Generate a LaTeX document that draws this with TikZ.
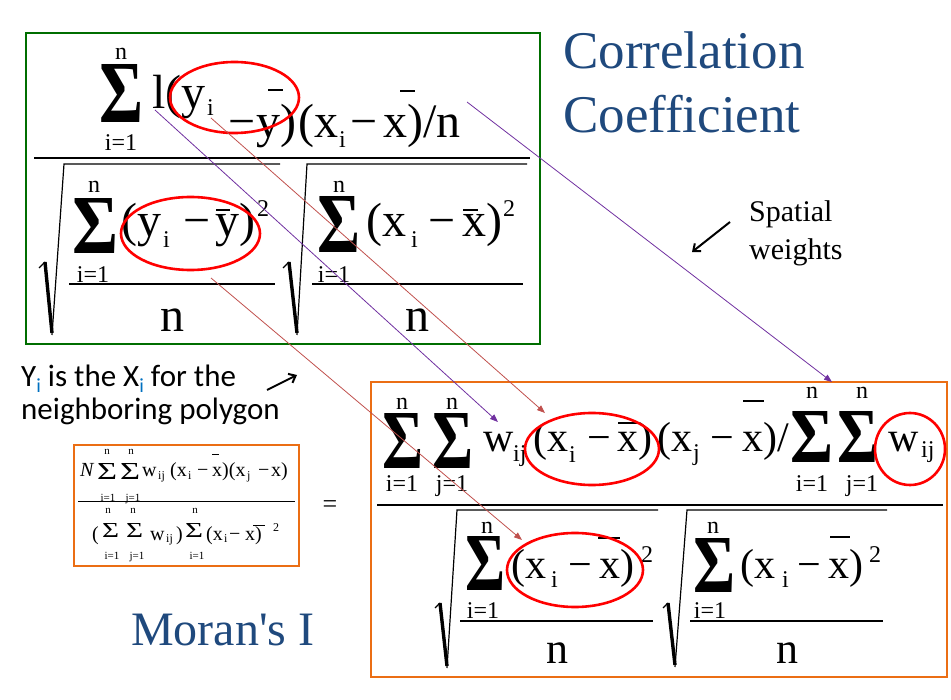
\documentclass[tikz,border=0pt]{standalone}
\usepackage{graphicx}
\usepackage{fontspec}
\setmainfont{Liberation Serif}
\newfontfamily\plainserif[Ligatures=TeXOff]{Liberation Serif}
\newfontfamily\calib{Carlito}
\usetikzlibrary{arrows.meta}
\definecolor{titleblue}{RGB}{31,73,125}
\definecolor{subblue}{RGB}{0,112,192}
\definecolor{boxgreen}{RGB}{0,110,0}
\definecolor{boxorange}{RGB}{235,110,20}
\definecolor{linkpurple}{RGB}{112,48,160}
\definecolor{linkred}{RGB}{192,80,77}
\newcommand{\fsz}[1]{\fontsize{#1}{#1}\selectfont}
\newcommand{\bigsig}[2]{\resizebox*{#1pt}{#2pt}{\bfseries Σ}}
\newcommand{\smallsig}[2]{\resizebox*{#1pt}{#2pt}{Σ}}
\begin{document}
\begin{tikzpicture}[x=1pt,y=-1pt,
  eqg/.style={anchor=base west,inner sep=0pt,font=\fsz{48}},
  eqo/.style={anchor=base west,inner sep=0pt,font=\fsz{42}},
  eqs/.style={anchor=base west,inner sep=0pt,font=\fsz{20}},
  deng/.style={anchor=base,inner sep=0pt,font=\fsz{48}},
  deno/.style={anchor=base,inner sep=0pt,font=\fsz{44}},
  lim/.style={anchor=base,inner sep=0pt,font=\fsz{24}},
  limsm/.style={anchor=base,inner sep=0pt,font=\fsz{11}},
  sub/.style={anchor=base west,inner sep=0pt,font=\fsz{24}},
  subsm/.style={anchor=base west,inner sep=0pt,font=\fsz{12}},
  sig/.style={anchor=north west,inner sep=0pt},
  bar/.style={line width=1.5pt},
  fracline/.style={line width=2pt},
  infrac/.style={line width=1.2pt},
  rad/.style={line width=1.2pt,line join=miter},
  radthick/.style={line width=3.4pt},
  ring/.style={draw=red,line width=2.6pt},
  purp/.style={draw=linkpurple,line width=0.8pt,-{Triangle[length=8pt,width=6pt]}},
  salm/.style={draw=linkred,line width=0.8pt,-{Triangle[length=8pt,width=6pt]}},
  callout/.style={line width=2pt,-{Straight Barb[length=6pt,width=10pt]}},
  title/.style={anchor=base west,inner sep=0pt,text=titleblue,font=\fsz{53}},
  note/.style={anchor=base west,inner sep=0pt,font=\fsz{30}},
  ynote/.style={anchor=base west,inner sep=0pt,font=\calib\fsz{31}}]
\useasboundingbox (0,0) rectangle (951,700);

% correlation coefficient
\draw[draw=boxgreen,line width=1.2pt] (26,33) rectangle (540,344);
\node[sig] (gs0) at (99,64) {\bigsig{44}{58}};
\node[lim] (gs0n) at (121,60) {n};
\node[lim] (gs0i) at (121,151) {i=1};
\node[eqg] (gl) at (152,109) {l};
\node[eqg] (gy0) at (165,109) {(y};
\node[sub] (gy0i) at (207,116) {i};
\node[eqg] (gm0) at (228,138) {−};
\node[eqg] (gy1) at (256,138) {y)};
\node[eqg] (gx0) at (298,138) {(x};
\node[sub] (gx0i) at (339,148) {i};
\node[eqg] (gm1) at (350,138) {−};
\node[eqg] (gx1) at (383,138) {x)/n};
\draw[bar] (268,90) -- (283,90);
\draw[bar] (400,91) -- (415,91);
\draw[fracline] (34,158) -- (530,158);

\draw[rad] (39,268) -- (45,262);
\draw[radthick] (45,262) -- (52,333);
\draw[rad] (52,335) -- (64,164) -- (280,164);
\node[sig] (gs1) at (72,198) {\bigsig{46}{55}};
\node[lim] (gs1n) at (94,193) {n};
\node[lim] (gs1i) at (93,283) {i=1};
\node[eqg] (gy2) at (121,237) {(y};
\node[sub] (gy2i) at (163,248) {i};
\node[eqg] (gm2) at (183,237) {−};
\node[eqg] (gy3) at (215,237) {y)};
\node[sub] (gy3s) at (257,217) {2};
\draw[bar] (216,210) -- (230,210);
\draw[infrac] (69,284) -- (275,284);
\node[deng] (gn1) at (172,332) {n};

\draw[rad] (283,268) -- (289,262);
\draw[radthick] (289,262) -- (297,333);
\draw[rad] (297,335) -- (307,164) -- (527,164);
\node[sig] (gs2) at (317,196) {\bigsig{43}{56}};
\node[lim] (gs2n) at (339,193) {n};
\node[lim] (gs2i) at (334,283) {i=1};
\node[eqg] (gx2) at (366,237) {(x};
\node[sub] (gx2i) at (411,248) {i};
\node[eqg] (gm3) at (428,237) {−};
\node[eqg] (gx3) at (462,237) {x)};
\node[sub] (gx3s) at (503,217) {2};
\draw[bar] (463,210) -- (478,210);
\draw[infrac] (312,284) -- (523,284);
\node[deng] (gn2) at (417,332) {n};

\draw[ring] (234.5,97.5) ellipse [x radius=64.5,y radius=35.5];
\draw[ring] (190.5,233.5) ellipse [x radius=69.5,y radius=36.5];

\node[title] (t1) at (563,69) {Correlation};
\node[title] (t2) at (563,133) {Coefficient};

\node[note] (sw1) at (749,222) {Spatial};
\node[note] (sw2) at (749,260) {weights};
\coordinate (swa) at (730,222);
\coordinate (swb) at (692,252);
\draw[callout] (swa) -- (swb);

% moran's I
\draw[draw=boxorange,line width=1.5pt] (371,382) rectangle (947,677);
\node[sig] (os1) at (382,413) {\bigsig{41}{55}};
\node[lim] (os1n) at (402,410) {n};
\node[lim] (os1i) at (402,492) {i=1};
\node[sig] (os2) at (432,413) {\bigsig{41}{55}};
\node[lim] (os2n) at (452,410) {n};
\node[lim] (os2j) at (452,492) {j=1};
\node[eqo] (ow0) at (483,452) {w};
\node[sub] (ow0s) at (513,462) {ij};
\node[eqo] (ox0) at (533,452) {(x};
\node[sub] (ox0i) at (569,463) {i};
\node[eqo] (om0) at (587,452) {−};
\node[eqo] (ox1) at (617,452) {x)};
\draw[bar] (618,423) -- (638,423);
\node[eqo] (ox2) at (657,452) {(x};
\node[sub] (ox2j) at (693,461) {j};
\node[eqo] (om1) at (710,452) {−};
\node[eqo] (ox3) at (742,452) {x)/};
\draw[bar] (743,401) -- (764,401);
\node[sig] (os3) at (790,411) {\bigsig{43}{51}};
\node[lim] (os3n) at (812,399) {n};
\node[lim] (os3i) at (812,492) {i=1};
\node[sig] (os4) at (837,411) {\bigsig{41}{51}};
\node[lim] (os4n) at (862,399) {n};
\node[lim] (os4j) at (862,492) {j=1};
\node[eqo] (ow1) at (888,452) {w};
\node[sub] (ow1s) at (921,458) {ij};
\draw[fracline] (377,505) -- (943,505);

\draw[rad] (435,608) -- (440,603);
\draw[radthick] (440,603) -- (447,666);
\draw[rad] (447,668) -- (457,510) -- (658,510);
\node[sig] (os5) at (465,536) {\bigsig{40}{54}};
\node[lim] (os5n) at (487,533) {n};
\node[lim] (os5i) at (483,618) {i=1};
\node[eqo] (ox4) at (511,578) {(x};
\node[sub] (ox4i) at (551,587) {i};
\node[eqo] (om2) at (568,578) {−};
\node[eqo] (ox5) at (599,578) {x)};
\node[sub] (ox5s) at (641,562) {2};
\draw[bar] (598,538) -- (620,538);
\draw[infrac] (460,621) -- (653,621);
\node[deno] (on1) at (557,663) {n};

\draw[rad] (663,608) -- (668,603);
\draw[radthick] (668,603) -- (675,665);
\draw[rad] (675,667) -- (687,510) -- (887,510);
\node[sig] (os6) at (693,538) {\bigsig{42}{54}};
\node[lim] (os6n) at (713,533) {n};
\node[lim] (os6i) at (710,618) {i=1};
\node[eqo] (ox6) at (740,578) {(x};
\node[sub] (ox6i) at (782,587) {i};
\node[eqo] (om3) at (797,578) {−};
\node[eqo] (ox7) at (828,578) {x)};
\node[sub] (ox7s) at (869,562) {2};
\draw[bar] (830,537) -- (850,537);
\draw[infrac] (690,621) -- (883,621);
\node[deno] (on2) at (787,663) {n};

\draw[ring] (592,449) ellipse [x radius=67,y radius=36];
\draw[ring] (910,449) ellipse [x radius=35,y radius=36];
\draw[ring] (575,570) ellipse [x radius=68,y radius=37];

% small formula
\draw[draw=boxorange,line width=1.2pt] (74,445) rectangle (299,566);
\node[eqs] (sN) at (80,477) {\textit{N}};
\node[sig] (ss1) at (97,463) {\smallsig{20}{16}};
\node[limsm] (ss1n) at (107,455) {n};
\node[limsm] (ss1i) at (108,502) {i=1};
\node[sig] (ss2) at (120,463) {\smallsig{20}{16}};
\node[limsm] (ss2n) at (131,455) {n};
\node[limsm] (ss2j) at (133,502) {j=1};
\node[eqs] (sw0) at (142,477) {w};
\node[subsm] (sw0s) at (158,480) {ij};
\node[eqs] (sx0) at (170,477) {(x};
\node[subsm] (sx0i) at (188,480) {i};
\node[eqs] (sm0) at (197,477) {−};
\node[eqs] (sx1) at (212,477) {x)(x};
\draw[line width=0.8pt] (212,454) -- (219,454);
\node[subsm] (sx1j) at (247,480) {j};
\node[eqs] (sm1) at (258,477) {−};
\node[eqs] (sx2) at (271,477) {x)};
\draw[line width=1pt] (78,502) -- (295,502);
\node[eqs] (sp0) at (92,540) {(};
\node[sig] (ss3) at (102,523) {\smallsig{17}{14}};
\node[limsm] (ss3n) at (108,514) {n};
\node[limsm] (ss3i) at (112,559) {i=1};
\node[sig] (ss4) at (126,523) {\smallsig{17}{14}};
\node[limsm] (ss4n) at (133,514) {n};
\node[limsm] (ss4j) at (137,559) {j=1};
\node[eqs] (sw1) at (150,540) {w};
\node[subsm] (sw1s) at (166,543) {ij};
\node[eqs] (sp1) at (176,540) {)};
\node[sig] (ss5) at (185,523) {\smallsig{18}{14}};
\node[limsm] (ss5n) at (195,514) {n};
\node[limsm] (ss5i) at (197,559) {i=1};
\node[eqs] (sx3) at (206,540) {(x};
\node[subsm] (sx3i) at (224,543) {i};
\node[eqs] (sm2) at (229,540) {−};
\node[eqs] (sx4) at (245,540) {x)};
\draw[line width=0.8pt] (253,525) -- (265,525);
\node[subsm] (sx4s) at (273,532) {2};
\node[anchor=base,inner sep=0pt,font=\fsz{26}] (eqsign) at (330,512) {=};

\node[title,font=\plainserif\fsz{48}] (moran) at (131,645) {Moran's I};

\node[ynote] (y1) at (21,387) {Y{\color{subblue}\raisebox{-6pt}{\fsz{20}i}} is the X{\color{subblue}\raisebox{-6pt}{\fsz{20}i}} for the};
\node[ynote] (y2) at (21,420) {neighboring polygon};
\coordinate (ya) at (267,390);
\coordinate (yb) at (297,375);
\draw[callout] (ya) -- (yb);

% links between the two formulas
\coordinate (p1a) at (155,110);
\coordinate (p1b) at (498,422);
\coordinate (p2a) at (467,102);
\coordinate (p2b) at (832,382);
\coordinate (r1a) at (211,118);
\coordinate (r1b) at (545,413);
\coordinate (r2a) at (211,278);
\coordinate (r2b) at (522,540);
\draw[purp] (p1a) -- (p1b);
\draw[purp] (p2a) -- (p2b);
\draw[salm] (r1a) -- (r1b);
\draw[salm] (r2a) -- (r2b);
\end{tikzpicture}
\end{document}
